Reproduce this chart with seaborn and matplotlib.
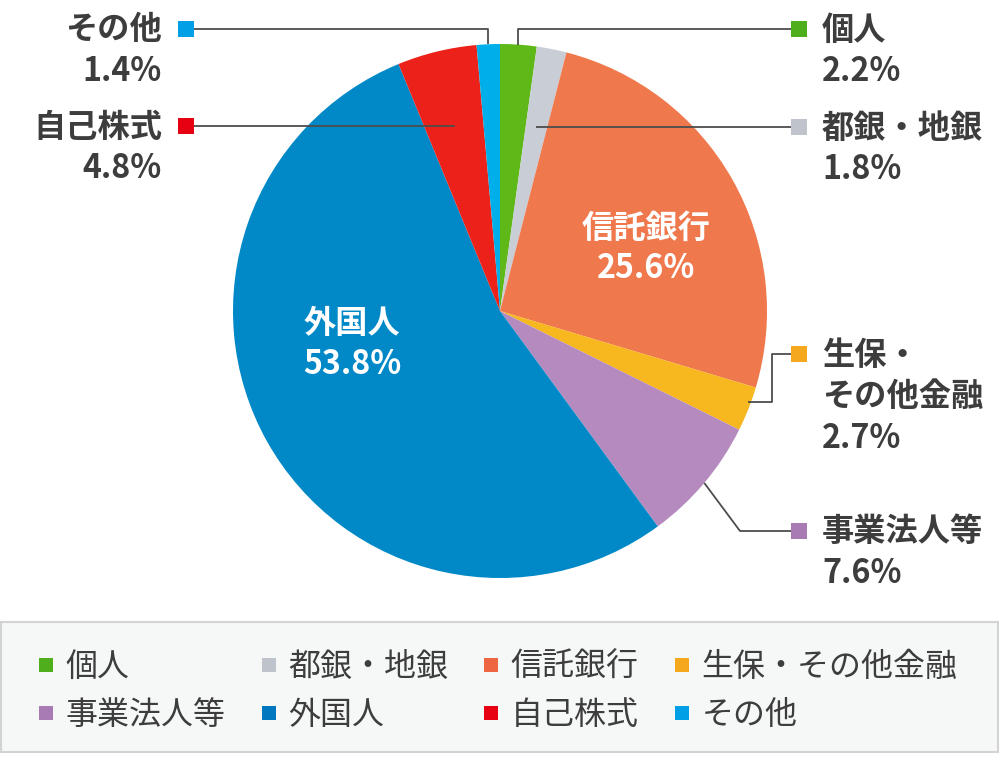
import numpy as np
import matplotlib
matplotlib.use("Agg")
import matplotlib.pyplot as plt
import seaborn as sns
from matplotlib.lines import Line2D
from matplotlib.patches import Rectangle

categories = ["個人", "都銀・地銀", "信託銀行", "生保・その他金融", "事業法人等", "外国人", "自己株式", "その他"]
shares = [2.2, 1.8, 25.6, 2.7, 7.6, 53.8, 4.8, 1.4]
pie_colors = ["#5eb817", "#c9cdd5", "#f0784d", "#f7b71e", "#b58abe", "#0088c7", "#ec2119", "#00afea"]
legend_colors = ["#4fae1b", "#bec3cc", "#ed6641", "#f5a81e", "#a97bb4", "#0077bf", "#e60012", "#009fe6"]

sns.set_theme(style="white")
plt.rcParams["font.family"] = ["Noto Sans CJK JP", "DejaVu Sans"]

W, H = 1000, 760
fig = plt.figure(figsize=(10, 7.6), dpi=100)
ax = fig.add_axes([0, 0, 1, 1])


def Y(py):
    return H - py


CX, CY, R = 500, 311, 267
ax.pie(shares, colors=pie_colors, startangle=90, counterclock=False,
       center=(CX, Y(CY)), radius=R, wedgeprops=dict(linewidth=0), frame=True)
ax.set_xlim(0, W)
ax.set_ylim(0, H)
ax.set_aspect("auto")
ax.axis("off")

total = sum(shares)
cum = np.concatenate([[0], np.cumsum(shares)]) / total


def mid_angle(i):
    return np.deg2rad((cum[i] + cum[i + 1]) / 2 * 360)


def edge_pt(i, frac=1.0):
    t = mid_angle(i)
    return CX + R * frac * np.sin(t), CY - R * frac * np.cos(t)


def mid_at_y(i, py):
    t = mid_angle(i)
    return CX + (CY - py) * np.tan(t)


TXT = "#3d3d3d"
LINE = "#4d4d4d"
FS = 23.2
LFS = 23
LW = 1.3


def line(pts):
    xs = [p[0] for p in pts]
    ys = [Y(p[1]) for p in pts]
    ax.plot(xs, ys, color=LINE, lw=LW, solid_capstyle="butt", zorder=3)


def marker(i, x, py):
    ax.plot([x], [Y(py)], marker="s", markersize=11, color=legend_colors[i],
            markeredgewidth=0, linestyle="none", zorder=4)


def label(i, lines, x, py, ha, gap=41.5):
    for k, s in enumerate(lines):
        ax.text(x, Y(py + k * gap), s, ha=ha, va="center", fontsize=FS,
                fontweight="bold", color=TXT)
    ax.text(x, Y(py + len(lines) * gap), f"{shares[i]}%", ha=ha, va="center",
            fontsize=FS, fontweight="bold", color=TXT)


# その他 (index 7)
ex, ey = edge_pt(7)
line([(192, 29), (ex, 29), (ex, ey)])
marker(7, 186, 29)
label(7, ["その他"], 162, 30, "right")

# 自己株式 (index 6)
line([(192, 126), (mid_at_y(6, 126), 126)])
marker(6, 186, 126)
label(6, ["自己株式"], 162, 127, "right")

# 個人 (index 0)
ex, ey = edge_pt(0)
line([(793, 29), (ex, 29), (ex, ey)])
marker(0, 799, 29)
label(0, ["個人"], 822, 30, "left")

# 都銀・地銀 (index 1)
line([(793, 127), (mid_at_y(1, 127), 127)])
marker(1, 799, 127)
label(1, ["都銀・地銀"], 822, 128, "left")

# 生保・その他金融 (index 3)
ex, ey = edge_pt(3)
line([(793, 354), (772, 354), (772, 402), (ex, 402)])
marker(3, 799, 354)
label(3, ["生保・", "その他金融"], 822, 355, "left")

# 事業法人等 (index 4)
ex, ey = edge_pt(4)
line([(793, 531), (740, 531), (ex, ey)])
marker(4, 799, 531)
label(4, ["事業法人等"], 822, 532, "left")

# inner labels
for i, (x, py) in [(2, (646, 228)), (5, (352, 324))]:
    ax.text(x, Y(py), categories[i], ha="center", va="center", fontsize=FS,
            fontweight="bold", color="white")
    ax.text(x, Y(py + 40), f"{shares[i]}%", ha="center", va="center",
            fontsize=FS, fontweight="bold", color="white")

# legend box
ax.add_patch(Rectangle((1, Y(752)), 997, 130, facecolor="#f6f7f7",
                       edgecolor="#d3d3d3", lw=1.5, zorder=1))

handles = [Line2D([], [], marker="s", linestyle="none", markersize=10,
                  markerfacecolor=c, markeredgewidth=0) for c in legend_colors]
order = [0, 4, 1, 5, 2, 6, 3, 7]
leg = fig.legend([handles[k] for k in order], [categories[k] for k in order],
                 ncol=4, loc="upper left", bbox_to_anchor=(22 / W, 1 - 635 / H),
                 frameon=False, fontsize=LFS, handlelength=0.5, handletextpad=0.36,
                 columnspacing=1.1, labelspacing=0.5, borderpad=0,
                 labelcolor=TXT)

fig.savefig("out.png", dpi=100)
